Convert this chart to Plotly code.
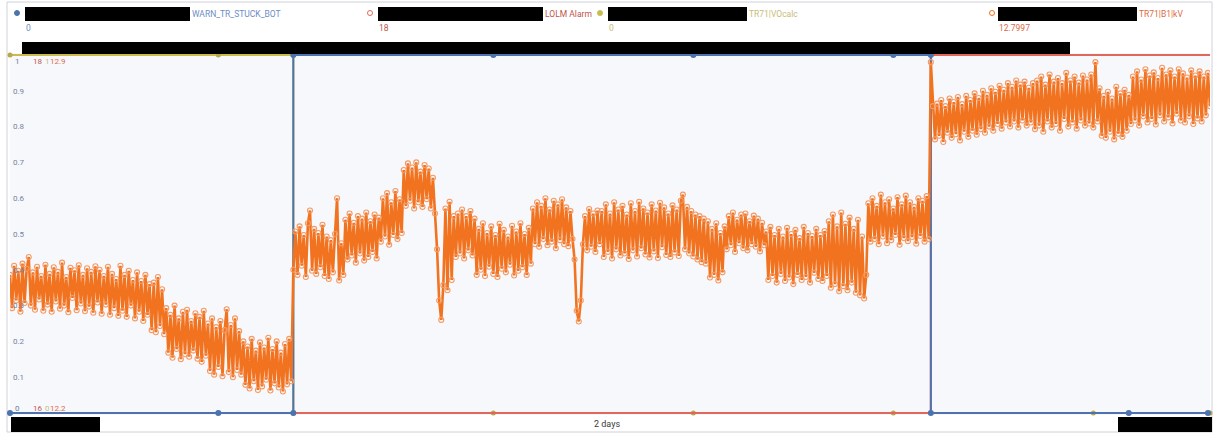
import pandas as pd
import plotly.graph_objects as go

# ---------------------------------------------------------------- data
start = pd.Timestamp("2023-05-14 00:00")
end = pd.Timestamp("2023-05-16 00:00")

# TR71|B1|kV, sampled every 5 minutes
kv_values = [
    # 14 May 00:00 - 11:15
    12.470, 12.405, 12.488, 12.420, 12.478, 12.398, 12.492, 12.415, 12.482, 12.505,
    12.410, 12.475, 12.402, 12.486, 12.422, 12.468, 12.400, 12.490, 12.412, 12.472,
    12.398, 12.485, 12.418, 12.476, 12.404, 12.494, 12.410, 12.466, 12.397, 12.484,
    12.425, 12.479, 12.401, 12.489, 12.414, 12.470, 12.399, 12.483, 12.408, 12.476,
    12.396, 12.487, 12.416,
    12.480, 12.394, 12.468, 12.412, 12.486, 12.392, 12.472, 12.405, 12.462, 12.390,
    12.488, 12.400, 12.470, 12.388, 12.478, 12.410, 12.460, 12.385, 12.475, 12.398,
    12.458, 12.380, 12.470, 12.392, 12.452,
    12.362, 12.455, 12.358, 12.466, 12.370, 12.442, 12.354,
    12.405, 12.318, 12.392, 12.308, 12.410, 12.325, 12.385, 12.305, 12.398, 12.315,
    12.402, 12.310, 12.380, 12.322, 12.395, 12.306, 12.388, 12.300, 12.400, 12.312,
    12.375, 12.282, 12.385, 12.275, 12.368, 12.290, 12.380, 12.272, 12.362, 12.403,
    12.280, 12.372, 12.270, 12.385, 12.284, 12.360, 12.275,
    12.340, 12.255, 12.330, 12.248, 12.345, 12.262, 12.322, 12.245, 12.338, 12.252,
    12.328, 12.265, 12.347, 12.244, 12.325, 12.258, 12.340, 12.250, 12.318, 12.242,
    12.335, 12.256, 12.345, 12.262,
    # 14 May 11:20 - 15 May 12:45
    12.480, 12.555, 12.470, 12.565, 12.488, 12.548, 12.466, 12.571, 12.596, 12.478,
    12.560, 12.472, 12.552, 12.485, 12.568, 12.468,
    12.545, 12.462, 12.538, 12.475, 12.550, 12.620, 12.459, 12.532, 12.470,
    12.578, 12.500, 12.590, 12.508, 12.572, 12.494, 12.585, 12.512, 12.580, 12.498,
    12.592, 12.505, 12.575, 12.515, 12.588, 12.502, 12.582,
    12.535, 12.620, 12.545, 12.630, 12.529, 12.612, 12.548, 12.634, 12.540, 12.618,
    12.552,
    12.675, 12.605, 12.688, 12.615, 12.680, 12.600, 12.690, 12.612, 12.672, 12.603,
    12.685, 12.618, 12.678, 12.600, 12.660, 12.590,
    12.520, 12.420, 12.382, 12.450,
    12.600, 12.440, 12.613, 12.460, 12.585,
    12.505, 12.590, 12.512, 12.598, 12.502, 12.585, 12.518, 12.595, 12.508, 12.580,
    12.470, 12.560, 12.480, 12.571, 12.468, 12.552, 12.486, 12.565, 12.472, 12.548,
    12.466, 12.570, 12.482, 12.558, 12.475, 12.545, 12.490, 12.566, 12.469, 12.555,
    12.478, 12.571, 12.485, 12.550, 12.470, 12.562, 12.492,
    12.600, 12.530, 12.612, 12.525, 12.605, 12.540, 12.620, 12.528, 12.598, 12.535,
    12.615, 12.522, 12.608, 12.538, 12.618, 12.530, 12.602, 12.526, 12.595, 12.540,
    12.500, 12.400, 12.379, 12.420, 12.530,
    12.585, 12.518, 12.599, 12.525, 12.590, 12.515, 12.596, 12.530,
    12.595, 12.505, 12.608, 12.515, 12.590, 12.502, 12.612, 12.520, 12.598, 12.508,
    12.605, 12.512, 12.588, 12.501, 12.610, 12.518, 12.595, 12.506, 12.613, 12.522,
    12.600, 12.510, 12.592, 12.504, 12.608, 12.516, 12.596, 12.503, 12.611, 12.524,
    12.602, 12.509, 12.590, 12.505, 12.606, 12.514, 12.598, 12.507, 12.615, 12.627,
    12.520, 12.603, 12.512, 12.595, 12.506, 12.588, 12.500, 12.585, 12.495, 12.580,
    12.492, 12.575,
    12.465, 12.560, 12.470, 12.571, 12.459, 12.552, 12.475, 12.565,
    12.520, 12.585, 12.528, 12.592, 12.515, 12.578, 12.532, 12.588, 12.522, 12.590,
    12.518, 12.575, 12.530, 12.586, 12.525, 12.580, 12.516, 12.572, 12.528,
    12.555, 12.460, 12.564, 12.468, 12.548, 12.455, 12.560, 12.472, 12.545, 12.458,
    12.562, 12.465, 12.550, 12.452, 12.558, 12.470, 12.542, 12.460, 12.564, 12.466,
    12.552, 12.455, 12.546, 12.474, 12.560, 12.462, 12.548, 12.458, 12.556, 12.468,
    12.575, 12.445, 12.588, 12.452, 12.565, 12.438, 12.592, 12.448, 12.570, 12.440,
    12.582, 12.455, 12.560, 12.435, 12.578, 12.430, 12.545, 12.424, 12.470,
    12.610, 12.535, 12.620, 12.540, 12.605, 12.530, 12.627, 12.545, 12.612, 12.532,
    12.618, 12.538, 12.600, 12.548, 12.622, 12.529, 12.608, 12.542, 12.625, 12.536,
    12.612, 12.544, 12.603, 12.531, 12.620, 12.546, 12.615, 12.535, 12.624, 12.540,
    # 15 May 12:50 - 16 May 00:00
    12.886, 12.800,
    12.735, 12.805, 12.742, 12.812, 12.730, 12.800, 12.748, 12.815, 12.738, 12.808,
    12.745, 12.818, 12.733, 12.804, 12.750, 12.820, 12.740, 12.812, 12.752, 12.825,
    12.744, 12.816, 12.755, 12.830, 12.748, 12.822, 12.760, 12.835, 12.752, 12.828,
    12.765, 12.840, 12.756, 12.832, 12.768, 12.845, 12.760, 12.838, 12.770, 12.850,
    12.758, 12.842, 12.772, 12.848, 12.762, 12.836, 12.768, 12.845,
    12.755, 12.850, 12.762, 12.858, 12.750, 12.842, 12.770, 12.862, 12.758, 12.848,
    12.765, 12.855, 12.752, 12.845, 12.775, 12.865, 12.760, 12.850, 12.768, 12.858,
    12.756, 12.846, 12.772, 12.860, 12.762, 12.852, 12.766, 12.862, 12.758,
    12.886, 12.770,
    12.835, 12.742, 12.820, 12.738, 12.828, 12.750, 12.815, 12.735, 12.838, 12.746,
    12.825, 12.740, 12.832, 12.752, 12.822,
    12.765, 12.858, 12.772, 12.868, 12.762, 12.852, 12.780, 12.872, 12.768, 12.860,
    12.775, 12.866, 12.764, 12.855, 12.782, 12.875, 12.770, 12.862, 12.778, 12.870,
    12.766, 12.858, 12.785, 12.872, 12.772, 12.864, 12.768, 12.856, 12.780, 12.870,
    12.765, 12.860, 12.776, 12.868, 12.770, 12.858, 12.782, 12.865, 12.7997,
]
kv_times = pd.date_range(start, periods=len(kv_values), freq="5min")

# WARN_TR_STUCK_BOT (0/1)
warn_times = ["2023-05-14 00:00", "2023-05-14 08:20", "2023-05-14 11:20", "2023-05-14 11:20",
              "2023-05-14 19:20", "2023-05-15 03:20", "2023-05-15 11:20", "2023-05-15 12:50",
              "2023-05-15 12:50", "2023-05-15 20:45", "2023-05-15 23:55"]
warn_values = [0, 0, 0, 1, 1, 1, 1, 1, 0, 0, 0]

# LOLM Alarm (16..18)
lolm_times = ["2023-05-14 00:00", "2023-05-15 12:50", "2023-05-15 12:50", "2023-05-16 00:00"]
lolm_values = [16, 16, 18, 18]

# TR71|VOcalc (0/1)
vocalc_times = ["2023-05-14 00:00", "2023-05-14 08:20", "2023-05-14 11:20", "2023-05-14 11:20",
                "2023-05-14 19:20", "2023-05-15 03:20", "2023-05-15 11:20", "2023-05-15 19:20",
                "2023-05-16 00:00"]
vocalc_values = [1, 1, 1, 0, 0, 0, 0, 0, 0]

# axis ranges per series
warn_range = (0, 1)
lolm_range = (16, 18)
vocalc_range = (0, 1)
kv_range = (12.2, 12.9)
left_ticks = [0.1, 0.2, 0.3, 0.4, 0.5, 0.6, 0.7, 0.8, 0.9]

legend_names = ["WARN_TR_STUCK_BOT", "LOLM Alarm", "TR71|VOcalc", "TR71|B1|kV"]
legend_values = ["0", "18", "0", "12.7997"]

# ---------------------------------------------------------------- styling
W, H = 1214, 434
ML, MR, MT, MB = 10, 4, 53, 19
FONT = "Roboto, Liberation Sans, Arial, sans-serif"

C_BLUE = "#4d72ad"
C_RED = "#e0685a"
C_OLIVE = "#cbbb4c"
C_ORANGE = "#f2731f"
C_ORANGE_MK = "#f59a62"

PAD_PX = 2  # extra pixels so lines on the range edges are not clipped
plot_h = H - MT - MB


def padded(lo, hi):
    span = hi - lo
    pad = span * PAD_PX / (plot_h - 2 * PAD_PX)
    return [lo - pad, hi + pad]


def px(x):
    return (x - ML) / (W - ML - MR)


def py(y):
    return (H - MB - y) / plot_h


fig = go.Figure()

fig.add_trace(go.Scatter(
    x=vocalc_times, y=vocalc_values, yaxis="y", mode="lines+markers",
    line=dict(color=C_OLIVE, width=2), marker=dict(size=5, color="#b8a84a"),
    cliponaxis=False, name=legend_names[2]))
fig.add_trace(go.Scatter(
    x=lolm_times, y=lolm_values, yaxis="y2", mode="lines",
    line=dict(color=C_RED, width=2), cliponaxis=False, name=legend_names[1]))
fig.add_trace(go.Scatter(
    x=warn_times, y=warn_values, yaxis="y3", mode="lines+markers",
    line=dict(color=C_BLUE, width=2), marker=dict(size=6, color=C_BLUE),
    cliponaxis=False, name=legend_names[0]))
fig.add_trace(go.Scatter(
    x=kv_times, y=kv_values, yaxis="y4", mode="lines+markers",
    line=dict(color=C_ORANGE, width=2.6),
    marker=dict(symbol="circle-open", size=5, color=C_ORANGE_MK, line=dict(width=1.1)),
    name=legend_names[3]))

hidden = dict(showgrid=False, zeroline=False, showticklabels=False, ticks="",
              showline=False, overlaying="y")

fig.update_layout(
    width=W, height=H,
    margin=dict(l=ML, r=MR, t=MT, b=MB, pad=0),
    paper_bgcolor="white",
    plot_bgcolor="#f7f8fc",
    showlegend=False,
    font=dict(family=FONT, size=9, color="#444"),
    xaxis=dict(type="date", range=[start, end], showgrid=False, zeroline=False,
               showticklabels=False, ticks="", showline=False),
    yaxis=dict(range=padded(*vocalc_range), tickvals=left_ticks,
               ticktext=[f"{v:g}" for v in left_ticks],
               ticklabelposition="inside", ticks="", showgrid=False, zeroline=False,
               showline=False, tickfont=dict(size=8, color="#7483a0")),
    yaxis2=dict(range=padded(*lolm_range), **hidden),
    yaxis3=dict(range=padded(*warn_range), **hidden),
    yaxis4=dict(range=padded(*kv_range), **hidden),
)

shapes = []
annotations = []

# outer frame
shapes.append(dict(type="rect", xref="paper", yref="paper",
                   x0=px(7), x1=px(1212), y0=py(432), y1=py(2),
                   line=dict(color="#cfd2d8", width=1), fillcolor="rgba(0,0,0,0)",
                   layer="below"))

# legend row
legend_x = [17, 370, 600, 992]
legend_box = [(25, 190), (378, 543), (608, 747), (998, 1137)]
legend_colors = [C_BLUE, C_RED, C_OLIVE, C_ORANGE]
legend_text_colors = ["#6d8cc4", "#c0564a", "#c9bb78", "#dc6a42"]
legend_open = [False, True, False, True]
for i in range(4):
    cx = legend_x[i]
    shapes.append(dict(type="circle", xref="paper", yref="paper",
                       xsizemode="pixel", ysizemode="pixel",
                       xanchor=px(cx), yanchor=py(13),
                       x0=-2.5, x1=2.5, y0=-2.5, y1=2.5,
                       line=dict(color=legend_colors[i], width=1),
                       fillcolor="rgba(0,0,0,0)" if legend_open[i] else legend_colors[i]))
    b0, b1 = legend_box[i]
    shapes.append(dict(type="rect", xref="paper", yref="paper",
                       x0=px(b0), x1=px(b1), y0=py(21), y1=py(7),
                       line=dict(width=0), fillcolor="black"))
    annotations.append(dict(x=px(b1), y=py(14), xref="paper", yref="paper",
                            text=legend_names[i], showarrow=False,
                            xanchor="left", yanchor="middle",
                            font=dict(size=8.5, color=legend_text_colors[i])))
    annotations.append(dict(x=px(b0 - 1), y=py(28), xref="paper", yref="paper",
                            text=legend_values[i], showarrow=False,
                            xanchor="left", yanchor="middle",
                            font=dict(size=8.5, color=legend_text_colors[i])))

# redaction bars
shapes.append(dict(type="rect", xref="paper", yref="paper",
                   x0=px(22), x1=px(1070), y0=py(54), y1=py(42),
                   line=dict(width=0), fillcolor="black"))
shapes.append(dict(type="rect", xref="paper", yref="paper",
                   x0=px(11), x1=px(100), y0=py(432), y1=py(417),
                   line=dict(width=0), fillcolor="black"))
shapes.append(dict(type="rect", xref="paper", yref="paper",
                   x0=px(1118), x1=px(1212), y0=py(432), y1=py(417),
                   line=dict(width=0), fillcolor="black"))

# stacked range labels at top and bottom of the value axis
top_labels = [("1", "#6d7ea0", 13), (str(lolm_range[1]), "#c0564a", 31),
              ("1", "#c9bb78", 43), (f"{kv_range[1]:g}", "#dc6a42", 48)]
bot_labels = [("0", "#6d7ea0", 13), (str(lolm_range[0]), "#c0564a", 31),
              ("0", "#c9bb78", 43), (f"{kv_range[0]:g}", "#dc6a42", 48)]
for text, color, x in top_labels:
    annotations.append(dict(x=px(x), y=py(61), xref="paper", yref="paper", text=text,
                            showarrow=False, xanchor="left", yanchor="middle",
                            font=dict(size=8, color=color)))
for text, color, x in bot_labels:
    annotations.append(dict(x=px(x), y=py(408), xref="paper", yref="paper", text=text,
                            showarrow=False, xanchor="left", yanchor="middle",
                            font=dict(size=8, color=color)))

annotations.append(dict(x=px(607), y=py(424), xref="paper", yref="paper", text="2 days",
                        showarrow=False, xanchor="center", yanchor="middle",
                        font=dict(size=9, color="#3a3a3a")))

fig.update_layout(shapes=shapes, annotations=annotations)
fig.write_html("out.html")
